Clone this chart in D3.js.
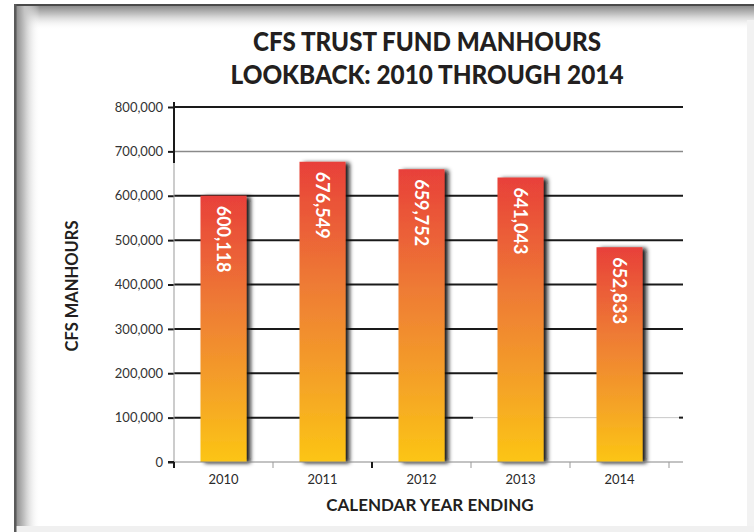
<!DOCTYPE html>
<html><head><meta charset="utf-8">
<script src="https://cdn.jsdelivr.net/npm/d3@7"></script>
<style>
html,body{margin:0;padding:0;background:#fff;}
svg{display:block;font-family:Lato, "Open Sans", sans-serif;}
</style></head>
<body><svg id="c" width="754" height="532"></svg>
<script>
const years = ["2010","2011","2012","2013","2014"];
const barValues = [600118, 676549, 659752, 641043, 484000];
const barLabels = ["600,118","676,549","659,752","641,043","652,833"];
const yTicks = [0,100000,200000,300000,400000,500000,600000,700000,800000];
const titleLines = ["CFS TRUST FUND MANHOURS","LOOKBACK: 2010 THROUGH 2014"];
const yTitle = "CFS MANHOURS";
const xTitle = "CALENDAR YEAR ENDING";

const svg = d3.select("#c");
const W = 754, H = 532;
const defs = svg.append("defs");

// frame shadows
const gl = defs.append("linearGradient").attr("id","shL").attr("x1",0).attr("x2",1).attr("y1",0).attr("y2",0);
gl.append("stop").attr("offset",0).attr("stop-color","#8c8c8c");
gl.append("stop").attr("offset",0.35).attr("stop-color","#c4c4c4");
gl.append("stop").attr("offset",1).attr("stop-color","#fff").attr("stop-opacity",0);
const gt = defs.append("linearGradient").attr("id","shT").attr("x1",0).attr("x2",0).attr("y1",0).attr("y2",1);
gt.append("stop").attr("offset",0).attr("stop-color","#8c8c8c");
gt.append("stop").attr("offset",0.35).attr("stop-color","#c4c4c4");
gt.append("stop").attr("offset",1).attr("stop-color","#fff").attr("stop-opacity",0);

svg.append("rect").attr("x",0).attr("y",0).attr("width",W).attr("height",H).attr("fill","#fff");
svg.append("rect").attr("x",16).attr("y",6).attr("width",W-16).attr("height",24).attr("fill","url(#shT)");
svg.append("rect").attr("x",16).attr("y",6).attr("width",24).attr("height",H-6).attr("fill","url(#shL)");
svg.append("rect").attr("x",747).attr("y",20).attr("width",7).attr("height",H-20).attr("fill","#f2f2f2");
svg.append("rect").attr("x",16).attr("y",526).attr("width",W-16).attr("height",6).attr("fill","#f0f0f0");
svg.append("rect").attr("x",14).attr("y",4).attr("width",W-14).attr("height",2).attr("fill","#4a4a4a");
svg.append("rect").attr("x",14).attr("y",4).attr("width",2.5).attr("height",H-4).attr("fill","#5a5a5a");

// bar gradient + shadow
const bg = defs.append("linearGradient").attr("id","barG").attr("x1",0).attr("x2",0).attr("y1",0).attr("y2",1);
bg.append("stop").attr("offset",0).attr("stop-color","#e8403a");
bg.append("stop").attr("offset",0.4).attr("stop-color","#ee7a35");
bg.append("stop").attr("offset",0.75).attr("stop-color","#f5a526");
bg.append("stop").attr("offset",1).attr("stop-color","#fcc514");
const f = defs.append("filter").attr("id","sh").attr("x","-20%").attr("y","-10%").attr("width","160%").attr("height","120%");
f.append("feDropShadow").attr("dx",4).attr("dy",1).attr("stdDeviation",2).attr("flood-color","#111").attr("flood-opacity",0.95);

const x0 = 174, x1 = 669, gridEnd = 683;
const x = d3.scaleBand().domain(years).range([x0, x1]).padding(0);
const y = d3.scaleLinear().domain([0, 800000]).range([462, 107]);

// title
titleLines.forEach((t,i)=>{
  svg.append("text").attr("x",427).attr("y",[51,84][i]).attr("text-anchor","middle")
    .attr("font-size",27).attr("font-weight",900).attr("fill","#231f20")
    .attr("textLength",[348,393][i]).attr("lengthAdjust","spacingAndGlyphs").text(t);
});

// gridlines
const grid = svg.append("g");
yTicks.filter(v=>v>0).forEach(v=>{
  const yy = y(v);
  if (v===700000) {
    grid.append("line").attr("x1",x0).attr("x2",gridEnd).attr("y1",yy).attr("y2",yy).attr("stroke","#8a8a8a").attr("stroke-width",1.5);
  } else if (v===100000) {
    grid.append("line").attr("x1",x0).attr("x2",473).attr("y1",yy).attr("y2",yy).attr("stroke","#1a1a1a").attr("stroke-width",2);
    grid.append("line").attr("x1",473).attr("x2",gridEnd).attr("y1",yy).attr("y2",yy).attr("stroke","#c8c8c8").attr("stroke-width",1);
    grid.append("line").attr("x1",679).attr("x2",gridEnd).attr("y1",yy).attr("y2",yy).attr("stroke","#1a1a1a").attr("stroke-width",2);
  } else {
    grid.append("line").attr("x1",x0).attr("x2",gridEnd).attr("y1",yy).attr("y2",yy).attr("stroke","#1a1a1a").attr("stroke-width",2);
  }
});

// y axis
const yAxis = svg.append("g").attr("transform",`translate(${x0},0)`)
  .call(d3.axisLeft(y).tickValues(yTicks).tickSize(6).tickPadding(5).tickFormat(d3.format(",")));
yAxis.select(".domain").remove();
yAxis.selectAll(".tick line").attr("stroke","#1a1a1a").attr("stroke-width",2);
yAxis.selectAll(".tick text").attr("font-size",13).attr("fill","#333").attr("font-family","Lato, sans-serif");
svg.append("line").attr("x1",x0).attr("x2",x0).attr("y1",102).attr("y2",163).attr("stroke","#1a1a1a").attr("stroke-width",2);
svg.append("line").attr("x1",x0).attr("x2",x0).attr("y1",163).attr("y2",462).attr("stroke","#999").attr("stroke-width",1);

// bars
const barW = 46;
const bars = svg.append("g");
years.forEach((yr,i)=>{
  const cx = x(yr) + x.bandwidth()/2;
  bars.append("rect").attr("x",cx-barW/2).attr("y",y(barValues[i]))
    .attr("width",barW).attr("height",y(0)-y(barValues[i]))
    .attr("fill","url(#barG)").attr("filter","url(#sh)");
  bars.append("text").attr("transform",`translate(${cx-7},${y(barValues[i])+10}) rotate(90)`)
    .attr("font-size",18).attr("font-weight",700).attr("fill","#fff").text(barLabels[i]);
});

// x axis
const xAxis = svg.append("g").attr("transform","translate(0,462)")
  .call(d3.axisBottom(x).tickSize(0).tickPadding(13));
xAxis.select(".domain").attr("stroke","#888").attr("stroke-width",1.2).attr("d",`M${x0},0H${gridEnd}`);
xAxis.selectAll(".tick text").attr("font-size",13).attr("fill","#2a2a2a").attr("font-family","Lato, sans-serif");
const bounds = years.map(d=>x(d)).concat([x1]);
bounds.forEach((b,i)=>{
  svg.append("line").attr("x1",b).attr("x2",b).attr("y1",462).attr("y2",468)
    .attr("stroke", (i===0||i===2)?"#1a1a1a":"#999").attr("stroke-width",(i===0||i===2)?2:1);
});
svg.append("line").attr("x1",168).attr("x2",x0).attr("y1",462).attr("y2",462).attr("stroke","#1a1a1a").attr("stroke-width",2);

// axis titles
svg.append("text").attr("transform","translate(78,286) rotate(-90)").attr("text-anchor","middle")
  .attr("font-size",16.5).attr("font-weight",700).attr("fill","#231f20").text(yTitle);
svg.append("text").attr("x",430).attr("y",511).attr("text-anchor","middle")
  .attr("font-size",17).attr("font-weight",700).attr("fill","#231f20").text(xTitle);
</script></body></html>
